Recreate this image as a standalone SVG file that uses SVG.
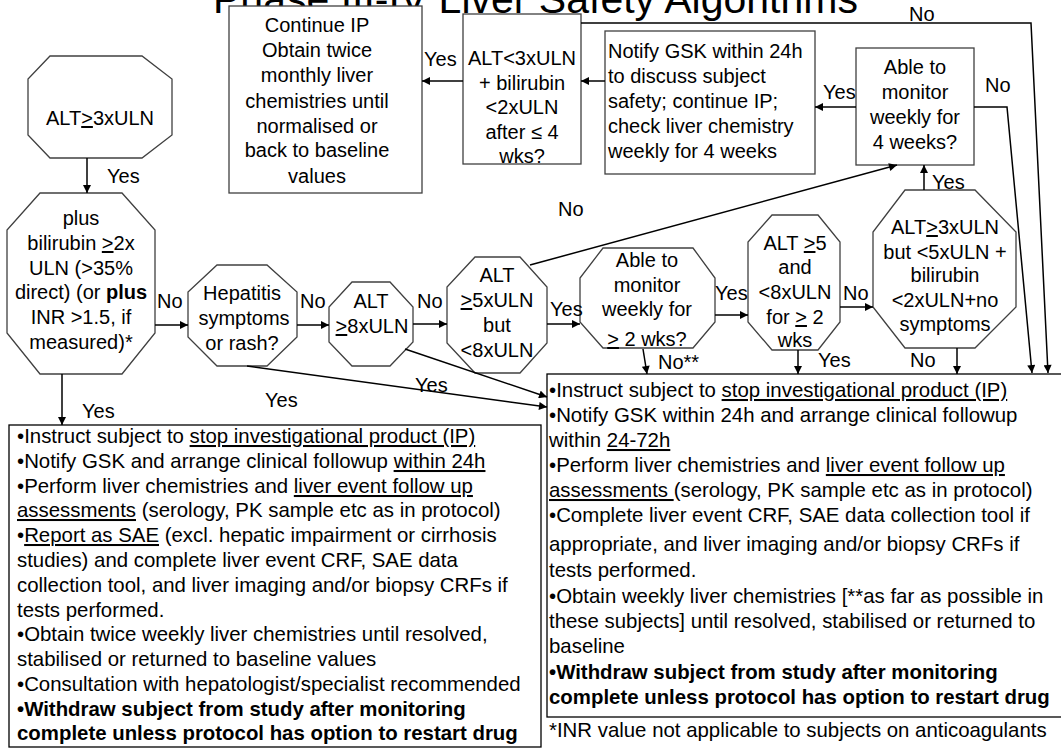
<svg xmlns="http://www.w3.org/2000/svg" width="1061" height="748" viewBox="0 0 1061 748">
<defs>
<style>
text{font-family:"Liberation Sans",Arial,sans-serif;font-size:20px;fill:#000}
.c{text-anchor:middle}
.bt{font-size:20.4px}
.s{fill:#fff;stroke:#404040;stroke-width:1.3}
.bx{fill:#fff;stroke:#000;stroke-width:1.3}
.k{fill:none;stroke:#000;stroke-width:1.5;marker-end:url(#ah)}
.u{text-decoration:underline}
.bd{font-weight:bold}
</style>
<marker id="ah" viewBox="0 0 10 10" refX="10" refY="5" markerWidth="9" markerHeight="8" markerUnits="userSpaceOnUse" orient="auto"><path d="M0,0 L10,5 L0,10 z" fill="#000"/></marker>
</defs>
<rect width="1061" height="748" fill="#fff"/>
<text x="213" y="13" style="font-size:41px">Phase III-IV Liver Safety Algorithms</text>

<g id="n-continue"><rect class="s" x="229" y="6" width="193" height="187"/>
<text class="c" x="317" y="32">Continue IP</text><text class="c" x="317" y="57">Obtain twice</text><text class="c" x="317" y="82">monthly liver</text><text class="c" x="317" y="108">chemistries until</text><text class="c" x="317" y="133">normalised or</text><text class="c" x="317" y="157">back to baseline</text><text class="c" x="317" y="183">values</text></g>

<g id="n-alt3lt"><rect class="s" x="463" y="14" width="118" height="150"/>
<text class="c" x="522" y="65">ALT&lt;3xULN</text><text class="c" x="522" y="90">+ bilirubin</text><text class="c" x="522" y="114">&lt;2xULN</text><text class="c" x="522" y="139">after ≤ 4</text><text class="c" x="522" y="163">wks?</text></g>

<g id="n-notify"><rect class="s" x="605" y="31" width="210" height="143"/>
<text x="608" y="58">Notify GSK within 24h</text><text x="608" y="83">to discuss subject</text><text x="608" y="108">safety; continue IP;</text><text x="608" y="133">check liver chemistry</text><text x="608" y="158">weekly for 4 weeks</text></g>

<g id="n-able4"><rect class="s" x="856" y="48" width="118" height="117"/>
<text class="c" x="915" y="74">Able to</text><text class="c" x="915" y="99">monitor</text><text class="c" x="915" y="124">weekly for</text><text class="c" x="915" y="149">4 weeks?</text></g>

<g id="n-alt3"><polygon class="s" points="50,56 142,56 172,79 172,135 142,158 50,158 28,135 28,79"/>
<text class="c" x="100" y="125">ALT<tspan class="u">&gt;</tspan>3xULN</text></g>

<g id="n-plus"><polygon class="s" points="40,193 122,193 155,230 155,333 122,374 40,374 7,333 7,230"/>
<text class="c" x="81" y="225">plus</text><text class="c" x="81" y="250">bilirubin <tspan class="u">&gt;</tspan>2x</text><text class="c" x="81" y="275">ULN (&gt;35%</text><text class="c" x="81" y="299">direct) (or <tspan class="bd">plus</tspan></text><text class="c" x="81" y="324">INR &gt;1.5, if</text><text class="c" x="81" y="349">measured)*</text></g>

<g id="n-hep"><polygon class="s" points="217,265 267,265 297,292 297,337 267,366 217,366 188,337 188,292"/>
<text class="c" x="242" y="300">Hepatitis</text><text class="c" x="244" y="325">symptoms</text><text class="c" x="242" y="350">or rash?</text></g>

<g id="n-alt8"><polygon class="s" points="352,282 390,282 413,307 413,342 390,366 352,366 329,342 329,307"/>
<text class="c" x="371" y="308">ALT</text><text class="c" x="372" y="333"><tspan class="u">&gt;</tspan>8xULN</text></g>

<g id="n-alt5"><polygon class="s" points="475,257 520,257 547,287 547,343 520,373 475,373 447,343 447,287"/>
<text class="c" x="497" y="282">ALT</text><text class="c" x="497" y="307"><tspan class="u">&gt;</tspan>5xULN</text><text class="c" x="497" y="332">but</text><text class="c" x="497" y="357">&lt;8xULN</text></g>

<g id="n-able2"><polygon class="s" points="603,248 693,248 715,278 715,322 693,348 603,348 580,322 580,278"/>
<text class="c" x="647" y="267">Able to</text><text class="c" x="647" y="292">monitor</text><text class="c" x="647" y="316">weekly for</text><text class="c" x="647" y="346"><tspan class="u">&gt;</tspan> 2 wks?</text></g>

<g id="n-alt58"><polygon class="s" points="772,215 818,215 840,242 840,322 818,350 772,350 748,322 748,242"/>
<text class="c" x="795" y="250">ALT <tspan class="u">&gt;</tspan>5</text><text class="c" x="795" y="274">and</text><text class="c" x="795" y="299">&lt;8xULN</text><text class="c" x="795" y="324">for <tspan class="u">&gt;</tspan> 2</text><text class="c" x="795" y="347">wks</text></g>

<g id="n-alt35"><polygon class="s" points="905,190 975,190 1016,232 1016,307 975,348 905,348 873,307 873,232"/>
<text class="c" x="945" y="234">ALT<tspan class="u">&gt;</tspan>3xULN</text><text class="c" x="945" y="259">but &lt;5xULN +</text><text class="c" x="945" y="282">bilirubin</text><text class="c" x="945" y="307">&lt;2xULN+no</text><text class="c" x="945" y="331">symptoms</text></g>

<g id="n-stop24"><rect class="bx" x="9" y="425" width="532" height="322"/>
<g class="bt">
<text class="bt" x="17" y="443">•Instruct subject to <tspan class="u">stop investigational product (IP)</tspan></text>
<text class="bt" x="17" y="468">•Notify GSK and arrange clinical followup  <tspan class="u">within 24h</tspan></text>
<text class="bt" x="17" y="493">•Perform liver chemistries and <tspan class="u">liver event follow up</tspan></text>
<text class="bt" x="17" y="517"><tspan class="u">assessments</tspan> (serology, PK sample etc as in protocol)</text>
<text class="bt" x="17" y="542">•<tspan class="u">Report as SAE</tspan> (excl. hepatic impairment or cirrhosis</text>
<text class="bt" x="17" y="567">studies) and complete liver event CRF, SAE data</text>
<text class="bt" x="17" y="592">collection tool, and liver imaging and/or biopsy CRFs if</text>
<text class="bt" x="17" y="617">tests performed.</text>
<text class="bt" x="17" y="641">•Obtain twice weekly liver chemistries until resolved,</text>
<text class="bt" x="17" y="666">stabilised or returned to baseline values</text>
<text class="bt" x="17" y="691">•Consultation with hepatologist/specialist recommended</text>
<text class="bt bd" x="17" y="716">•Withdraw subject from study after monitoring</text>
<text class="bt bd" x="17" y="740">complete unless protocol has option to restart drug</text>
</g></g>

<g id="n-stop72"><rect class="bx" x="547" y="374" width="520" height="343"/>
<text class="bt" x="549" y="397">•Instruct subject to <tspan class="u">stop investigational product (IP)</tspan></text>
<text class="bt" x="549" y="422">•Notify GSK within 24h and arrange clinical followup</text>
<text class="bt" x="549" y="447">within <tspan class="u">24-72h</tspan></text>
<text class="bt" x="549" y="472">•Perform liver chemistries and <tspan class="u">liver event follow up</tspan></text>
<text class="bt" x="549" y="497"><tspan class="u">assessments </tspan>(serology, PK sample etc as in protocol)</text>
<text class="bt" x="549" y="522">•Complete liver event CRF, SAE data collection tool if</text>
<text class="bt" x="549" y="551">appropriate,  and liver imaging and/or biopsy CRFs if</text>
<text class="bt" x="549" y="577">tests performed.</text>
<text class="bt" x="549" y="603">•Obtain weekly liver chemistries [**as far as possible in</text>
<text class="bt" x="549" y="628">these subjects] until resolved, stabilised or returned to</text>
<text class="bt" x="549" y="653">baseline</text>
<text class="bt bd" x="549" y="679">•Withdraw subject from study after monitoring</text>
<text class="bt bd" x="549" y="704">complete unless protocol has option to restart drug</text>
</g>

<g id="n-footnote"><text class="bt" x="549" y="737">*INR value not applicable to subjects on anticoagulants</text></g>

<g id="connectors">
<path class="k" d="M87,158 V193"/>
<path class="k" d="M463,81 H422"/>
<path class="k" d="M605,81 H581"/>
<path class="k" d="M856,107 H815"/>
<path class="k" d="M581,23 H1031 L1048,373"/>
<path class="k" d="M974,107 H1007 L1032,373"/>
<path class="k" d="M530,265 L897,165"/>
<path class="k" d="M924,190 V165"/>
<path class="k" d="M155,325 H188"/>
<path class="k" d="M297,325 H329"/>
<path class="k" d="M413,324 H447"/>
<path class="k" d="M547,324 H580"/>
<path class="k" d="M715,315 H748"/>
<path class="k" d="M840,307 H873"/>
<path class="k" d="M643,349 L647,374"/>
<path class="k" d="M798,350 V374"/>
<path class="k" d="M957,348 V374"/>
<path class="k" d="M62,374 V425"/>
<path class="k" d="M247,366 L547,407"/>
<path class="k" d="M405,349 L547,397"/>
</g>

<g id="labels">
<text x="107" y="183">Yes</text>
<text x="424" y="66">Yes</text>
<text x="823" y="99">Yes</text>
<text x="909" y="21">No</text>
<text x="985" y="92">No</text>
<text x="558" y="216">No</text>
<text x="932" y="189">Yes</text>
<text x="157" y="308">No</text>
<text x="300" y="308">No</text>
<text x="417" y="308">No</text>
<text x="550" y="316">Yes</text>
<text x="715" y="300">Yes</text>
<text x="843" y="300">No</text>
<text x="658" y="369">No**</text>
<text x="818" y="367">Yes</text>
<text x="910" y="367">No</text>
<text x="82" y="418">Yes</text>
<text x="265" y="407">Yes</text>
<text x="415" y="392">Yes</text>
</g>
</svg>
